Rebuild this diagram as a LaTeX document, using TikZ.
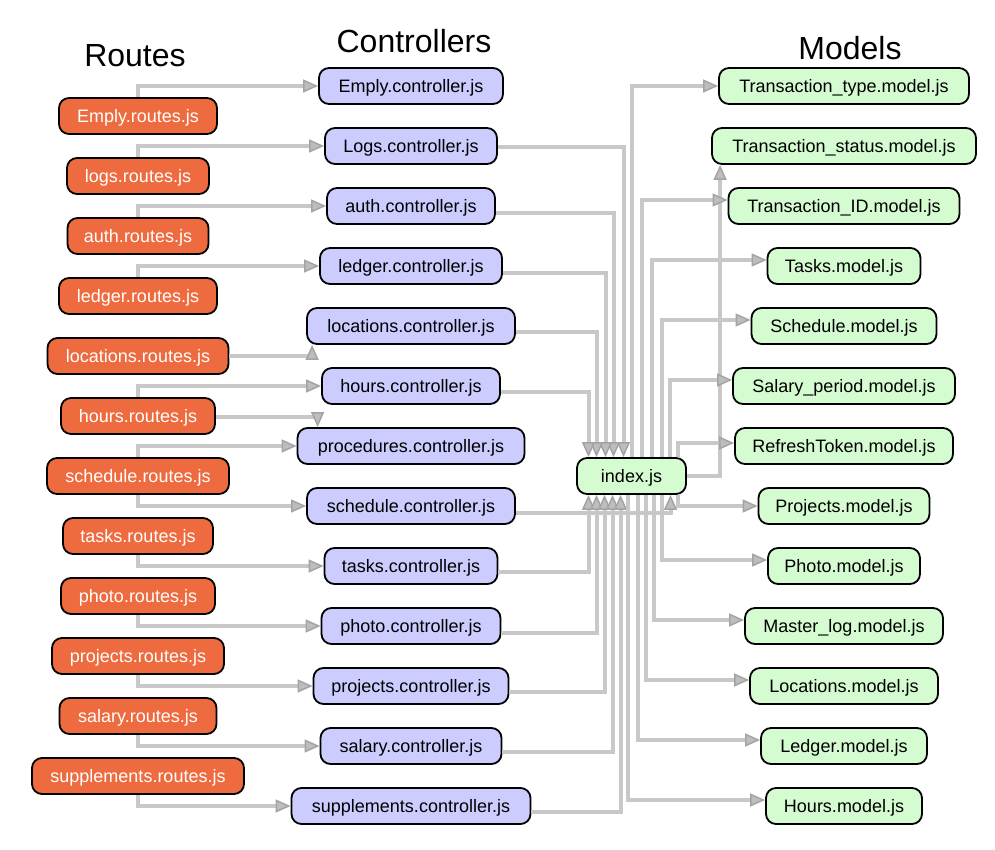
\documentclass[tikz,border=0pt]{standalone}
\usepackage{fontspec}
\setmainfont{Liberation Sans}
\usetikzlibrary{arrows.meta}
\definecolor{routeorange}{HTML}{EE6B3F}
\definecolor{ctrlblue}{HTML}{CCCCFF}
\definecolor{modelgreen}{HTML}{D5FCD1}
\definecolor{linkgray}{HTML}{C8C8C8}
\definecolor{tipline}{HTML}{A4A4A4}
\definecolor{tipfill}{HTML}{BDBDBD}

\begin{document}
\begin{tikzpicture}[x=1pt, y=-1pt,
  box/.style={rectangle, rounded corners=10pt, draw=black, line width=1.8pt, minimum height=36pt, inner sep=0pt, font=\fontsize{18}{20}\selectfont, text height=14pt, text depth=1.4pt},
  route/.style={box, fill=routeorange, text=white},
  ctrl/.style={box, fill=ctrlblue},
  model/.style={box, fill=modelgreen},
  heading/.style={font=\fontsize{32}{36}\selectfont, inner sep=0pt},
  link/.style={draw=linkgray, line width=4pt, -{Triangle[length=15pt, width=13pt, line width=1.5pt, color=tipline, fill=tipfill]}}]
\useasboundingbox (0,0) rectangle (995,850);

% Column headings
\node[heading] (troutes) at (135,55.5) {Routes};
\node[heading] (tctrl) at (414,41.5) {Controllers};
\node[heading] (tmodels) at (850,48) {Models};

% Routes
\node[route, minimum width=158pt] (r1) at (138,116) {Emply.routes.js};
\node[route, minimum width=142pt] (r2) at (138,176) {logs.routes.js};
\node[route, minimum width=141pt] (r3) at (138,236) {auth.routes.js};
\node[route, minimum width=158pt] (r4) at (138,296) {ledger.routes.js};
\node[route, minimum width=181pt] (r5) at (138,356) {locations.routes.js};
\node[route, minimum width=154pt] (r6) at (138,416) {hours.routes.js};
\node[route, minimum width=182pt] (r7) at (138,476) {schedule.routes.js};
\node[route, minimum width=150pt] (r8) at (138,536) {tasks.routes.js};
\node[route, minimum width=154pt] (r9) at (138,596) {photo.routes.js};
\node[route, minimum width=172pt] (r10) at (138,656) {projects.routes.js};
\node[route, minimum width=157pt] (r11) at (138,716) {salary.routes.js};
\node[route, minimum width=212pt] (r12) at (138,776) {supplements.routes.js};

% Controllers
\node[ctrl, minimum width=184pt] (c1) at (411,86) {Emply.controller.js};
\node[ctrl, minimum width=172pt] (c2) at (411,146) {Logs.controller.js};
\node[ctrl, minimum width=168pt] (c3) at (411,206) {auth.controller.js};
\node[ctrl, minimum width=182pt] (c4) at (411,266) {ledger.controller.js};
\node[ctrl, minimum width=208pt] (c5) at (411,326) {locations.controller.js};
\node[ctrl, minimum width=178pt] (c6) at (411,386) {hours.controller.js};
\node[ctrl, minimum width=227pt] (c7) at (411,446) {procedures.controller.js};
\node[ctrl, minimum width=208pt] (c8) at (411,506) {schedule.controller.js};
\node[ctrl, minimum width=173pt] (c9) at (411,566) {tasks.controller.js};
\node[ctrl, minimum width=179pt] (c10) at (411,626) {photo.controller.js};
\node[ctrl, minimum width=195pt] (c11) at (411,686) {projects.controller.js};
\node[ctrl, minimum width=181pt] (c12) at (411,746) {salary.controller.js};
\node[ctrl, minimum width=239pt] (c13) at (411,806) {supplements.controller.js};

% Index
\node[model, minimum width=109pt] (ix) at (631.5,476) {index.js};

% Models
\node[model, minimum width=250pt] (m1) at (844,86) {Transaction\_type.model.js};
\node[model, minimum width=264pt] (m2) at (844,146) {Transaction\_status.model.js};
\node[model, minimum width=231pt] (m3) at (844,206) {Transaction\_ID.model.js};
\node[model, minimum width=153pt] (m4) at (844,266) {Tasks.model.js};
\node[model, minimum width=185pt] (m5) at (844,326) {Schedule.model.js};
\node[model, minimum width=222pt] (m6) at (844,386) {Salary\_period.model.js};
\node[model, minimum width=218pt] (m7) at (844,446) {RefreshToken.model.js};
\node[model, minimum width=171pt] (m8) at (844,506) {Projects.model.js};
\node[model, minimum width=152pt] (m9) at (844,566) {Photo.model.js};
\node[model, minimum width=198pt] (m10) at (844,626) {Master\_log.model.js};
\node[model, minimum width=188pt] (m11) at (844,686) {Locations.model.js};
\node[model, minimum width=166pt] (m12) at (844,746) {Ledger.model.js};
\node[model, minimum width=156pt] (m13) at (844,806) {Hours.model.js};

% Routes -> controllers
\draw[link] (r1.north) |- (c1.west);
\draw[link] (r2.north) |- (c2.west);
\draw[link] (r3.north) |- (c3.west);
\draw[link] (r4.north) |- (c4.west);
\draw[link] (r5.east) -| ([xshift=6pt]c5.south west);
\draw[link] (r6.north) |- (c6.west);
\draw[link] ([yshift=-1pt]r6.east) -| ([xshift=21pt]c7.north west);
\draw[link] (r7.north) |- (c7.west);
\draw[link] (r7.south) |- (c8.west);
\draw[link] (r8.south) |- (c9.west);
\draw[link] (r9.south) |- (c10.west);
\draw[link] (r10.south) |- (c11.west);
\draw[link] (r11.south) |- (c12.west);
\draw[link] (r12.south) |- (c13.west);

% Controllers -> index
\draw[link] ([yshift=-1pt]c2.east) -| ([xshift=-8pt]ix.north);
\draw[link] ([yshift=-7pt]c3.east) -| ([xshift=-18pt]ix.north);
\draw[link] ([yshift=-7pt]c4.east) -| ([xshift=-26pt]ix.north);
\draw[link] ([yshift=-6pt]c5.east) -| ([xshift=-35pt]ix.north);
\draw[link] ([yshift=-6pt]c6.east) -| ([xshift=-43pt]ix.north);
\draw[link] ([yshift=-7pt]c8.east) -| ([xshift=39pt]ix.south);
\draw[link] ([yshift=-6pt]c9.east) -| ([xshift=-43pt]ix.south);
\draw[link] ([yshift=-7pt]c10.east) -| ([xshift=-35pt]ix.south);
\draw[link] ([yshift=-6pt]c11.east) -| ([xshift=-27pt]ix.south);
\draw[link] ([yshift=-6pt]c12.east) -| ([xshift=-19pt]ix.south);
\draw[link] ([yshift=-6pt]c13.east) -| ([xshift=-11pt]ix.south);

% Index -> models
\draw[link] (ix.north) |- (m1.west);
\draw[link] (ix.east) -| ([xshift=9pt]m2.south west);
\draw[link] ([xshift=10pt]ix.north) |- ([yshift=6pt]m3.west);
\draw[link] ([xshift=20pt]ix.north) |- ([yshift=6pt]m4.west);
\draw[link] ([xshift=30pt]ix.north) |- ([yshift=6pt]m5.west);
\draw[link] ([xshift=38pt]ix.north) |- ([yshift=6pt]m6.west);
\draw[link] ([xshift=46pt]ix.north) |- ([yshift=3pt]m7.west);
\draw[link] ([xshift=46pt]ix.south) |- (m8.west);
\draw[link] ([xshift=30pt]ix.south) |- ([yshift=6pt]m9.west);
\draw[link] ([xshift=22pt]ix.south) |- ([yshift=6pt]m10.west);
\draw[link] ([xshift=14pt]ix.south) |- ([yshift=6pt]m11.west);
\draw[link] ([xshift=6pt]ix.south) |- ([yshift=6pt]m12.west);
\draw[link] ([xshift=-4pt]ix.south) |- ([yshift=6pt]m13.west);
\end{tikzpicture}
\end{document}
